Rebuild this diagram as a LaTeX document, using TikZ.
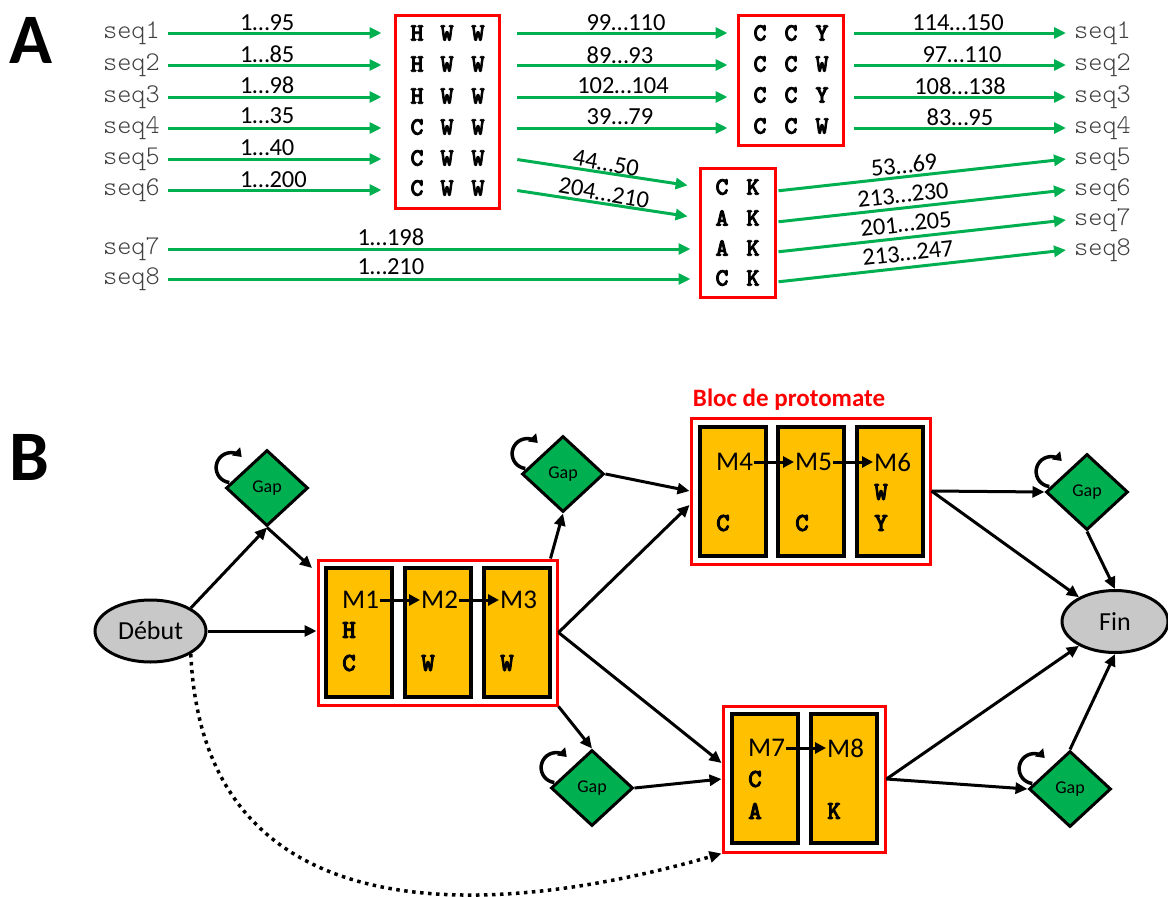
\documentclass[tikz,border=0pt]{standalone}
\usepackage{fontspec}
\setmainfont{Carlito}
\newfontfamily\monof{lmmonolt10-regular.otf}
\newfontfamily\monobf[FakeBold=3]{lmmonolt10-bold.otf}
\usetikzlibrary{arrows.meta,shapes.geometric,calc}
\definecolor{agreen}{HTML}{00B050}
\definecolor{modorange}{HTML}{FFC000}
\definecolor{ellgray}{HTML}{C8C8C8}
\definecolor{seqgray}{HTML}{404040}
\begin{document}
\begin{tikzpicture}[x=1pt,y=1pt,
  bigl/.style={font=\bfseries\fontsize{71}{71}\selectfont, inner sep=0pt},
  seqlab/.style={font=\monof\fontsize{27}{27}\selectfont, text=seqgray, inner xsep=8pt, inner ysep=0pt},
  rng/.style={font=\fontsize{24.5}{24.5}\selectfont, inner sep=0pt},
  aa/.style={font=\monobf\fontsize{25}{25}\selectfont, inner sep=0pt},
  garrow/.style={draw=agreen, line width=3pt, -{Triangle[length=12pt,width=11pt]}},
  redbox/.style={draw=red, line width=3pt, inner sep=0pt},
  ell/.style={ellipse, draw=black, line width=3pt, fill=ellgray, inner sep=0pt, font=\fontsize{26}{26}\selectfont},
  gapd/.style={diamond, draw=black, line width=3pt, fill=agreen, inner sep=0pt, minimum width=82pt, minimum height=76pt, font=\fontsize{18}{18}\selectfont},
  modbox/.style={draw=black, line width=4pt, fill=modorange, inner sep=0pt, minimum width=66pt, minimum height=129pt},
  mt/.style={anchor=west, inner sep=1pt, font=\fontsize{27}{27}\selectfont},
  ml/.style={anchor=west, inner sep=1pt, font=\monobf\fontsize{26}{26}\selectfont},
  barrow/.style={draw=black, line width=3pt, -{Triangle[length=12pt,width=11pt]}},
  iarrow/.style={draw=black, line width=3pt, -{Triangle[length=11pt,width=11pt]}},
  loopst/.style={draw=black, line width=3.5pt, -{Triangle[length=8pt,width=11pt]}},
  dotarrow/.style={draw=black, line width=3.5pt, dash pattern=on 3.5pt off 4.5pt, -{Triangle[length=12pt,width=11pt]}}
]
\useasboundingbox (0,0) rectangle (1168,-897);

%%%%%%%%%%%%%%%% PART A
\node[bigl] (labA) at (31,-40) {A};

\foreach \i/\y in {1/33,2/65,3/97,4/128,5/159,6/190,7/249,8/279}
  \node[seqlab, anchor=east] (l\i) at (168,-\y) {seq\i};
\foreach \i/\y in {1/33,2/65,3/97,4/128,5/159,6/190,7/220,8/250}
  \node[seqlab, anchor=west] (r\i) at (1066,-\y) {seq\i};

\node[redbox, minimum width=104pt, minimum height=193pt] (box1) at (447,-111.5) {};
\node[redbox, minimum width=105pt, minimum height=130pt] (box2) at (790.5,-80) {};
\node[redbox, minimum width=75pt, minimum height=129pt] (box3) at (737.5,-232.5) {};

\foreach \r/\y/\a in {1/33/H,2/64/H,3/96/H,4/127/C,5/158/C,6/188/C}{
  \node[aa] (p\r a) at (417,-\y) {\a};
  \node[aa] (p\r b) at (447,-\y) {W};
  \node[aa] (p\r c) at (478,-\y) {W};
}
\foreach \r/\y/\a in {1/33/Y,2/64/W,3/95/Y,4/126/W}{
  \node[aa] (s\r a) at (760,-\y) {C};
  \node[aa] (s\r b) at (791,-\y) {C};
  \node[aa] (s\r c) at (822,-\y) {\a};
}
\foreach \r/\y/\a in {1/187/C,2/218/A,3/248/A,4/278/C}{
  \node[aa] (q\r a) at (722,-\y) {\a};
  \node[aa] (q\r b) at (753,-\y) {K};
}

% arrows into box1
\foreach \i in {1,...,6}
  \draw[garrow, shorten >=12pt] (l\i.east) -- (box1.west |- l\i.east);
% box1 -> box2
\foreach \i in {1,...,4}
  \draw[garrow, shorten <=16pt, shorten >=9pt] (box1.east |- l\i.east) -- (box2.west |- l\i.east);
% box2 -> right seqs
\foreach \i in {1,...,4}
  \draw[garrow, shorten <=9pt] (box2.east |- r\i.west) -- (r\i.west);
% box1 -> box3
\draw[garrow, shorten <=17pt, shorten >=11pt] ($(box1.east |- l5.east)+(0,2)$) -- (box3.west |- q1a);
\draw[garrow, shorten <=17pt, shorten >=11pt] ($(box1.east |- l6.east)+(0,2)$) -- (box3.west |- q2a);
% seq7, seq8 -> box3
\draw[garrow, shorten >=8pt] (l7.east) -- (box3.west |- l7.east);
\draw[garrow, shorten >=8pt] (l8.east) -- (box3.west |- l8.east);
% box3 -> right seqs
\draw[garrow, shorten <=2pt] ($(box3.east |- q1a)+(0,-4)$) -- (r5.west);
\draw[garrow, shorten <=2pt] ($(box3.east |- q2a)+(0,-4)$) -- (r6.west);
\draw[garrow, shorten <=2pt] ($(box3.east |- q3a)+(0,-4)$) -- (r7.west);
\draw[garrow, shorten <=2pt] ($(box3.east |- q4a)+(0,-4)$) -- (r8.west);

% range labels
\node[rng, anchor=west] (n1) at (240,-22.5) {1…95};
\node[rng, anchor=west] (n2) at (240,-54.5) {1…85};
\node[rng, anchor=west] (n3) at (240,-85) {1…98};
\node[rng, anchor=west] (n4) at (240,-116) {1…35};
\node[rng, anchor=west] (n5) at (240,-148) {1…40};
\node[rng, anchor=west] (n6) at (240,-179.5) {1…200};
\node[rng] (n7) at (391,-237) {1…198};
\node[rng] (n8) at (391,-267) {1…210};
\node[rng] (m1l) at (626,-23) {99…110};
\node[rng] (m2l) at (620,-55) {89…93};
\node[rng] (m3l) at (623,-86) {102…104};
\node[rng] (m4l) at (620,-117) {39…79};
\node[rng, rotate=-10] (m5l) at (606,-163) {44…50};
\node[rng, rotate=-10] (m6l) at (604,-193) {204…210};
\node[rng] (o1l) at (958,-23) {114…150};
\node[rng] (o2l) at (962,-55) {97…110};
\node[rng] (o3l) at (960,-86) {108…138};
\node[rng] (o4l) at (960,-117) {83…95};
\node[rng, rotate=6.4] (o5l) at (904,-165) {53…69};
\node[rng, rotate=6.4] (o6l) at (903,-195) {213…230};
\node[rng, rotate=6.4] (o7l) at (906,-224) {201…205};
\node[rng, rotate=6.4] (o8l) at (908,-253) {213…247};

%%%%%%%%%%%%%%%% PART B
\node[bigl] (labB) at (29,-457) {B};

\node[ell, minimum width=111pt, minimum height=62pt] (deb) at (150.5,-631) {Début};
\node[ell, minimum width=106pt, minimum height=62pt] (fin) at (1115,-621.5) {Fin};

\node[gapd] (g1) at (267,-488) {Gap};
\node[gapd] (g2) at (563,-474) {Gap};
\node[gapd] (g3) at (592,-788) {Gap};
\node[gapd] (g4) at (1087,-492) {Gap};
\node[gapd] (g5) at (1070,-789) {Gap};

\foreach \g in {g1,g2,g3,g4,g5}
  \draw[loopst] ([shift={(-37.7,5.5)}]\g.center) arc[start angle=263, end angle=45, radius=15pt];

% red protomate blocks
\node[redbox, minimum width=239pt, minimum height=145pt] (b1) at (437.5,-632.5) {};
\node[redbox, minimum width=239pt, minimum height=146pt] (b2) at (810.5,-491) {};
\node[redbox, minimum width=162pt, minimum height=146pt] (b3) at (804,-779) {};
\node[font=\bfseries\fontsize{25}{25}\selectfont, text=red, inner sep=0pt] (bloc) at (789,-400) {Bloc de protomate};

% modules
\node[modbox] (mod1) at (358.5,-632) {};
\node[modbox] (mod2) at (437.5,-632) {};
\node[modbox] (mod3) at (516.5,-632) {};
\node[modbox] (mod4) at (732.5,-491) {};
\node[modbox] (mod5) at (811,-491) {};
\node[modbox] (mod6) at (890,-491) {};
\node[modbox] (mod7) at (765,-778) {};
\node[modbox] (mod8) at (843.5,-778) {};

\node[mt] (t1) at (341,-600) {M1};
\node[ml] (t1h) at (341,-630) {H};
\node[ml] (t1c) at (341,-663) {C};
\node[mt] (t2) at (420,-600) {M2};
\node[ml] (t2w) at (420,-663) {W};
\node[mt] (t3) at (499,-600) {M3};
\node[ml] (t3w) at (499,-663) {W};
\node[mt] (t4) at (715,-462) {M4};
\node[ml] (t4c) at (715,-523) {C};
\node[mt] (t5) at (794,-462) {M5};
\node[ml] (t5c) at (794,-523) {C};
\node[mt] (t6) at (873,-462) {M6};
\node[ml] (t6w) at (873,-492) {W};
\node[ml] (t6y) at (873,-523) {Y};
\node[mt] (t7) at (747,-748) {M7};
\node[ml] (t7c) at (747,-779) {C};
\node[ml] (t7a) at (747,-811) {A};
\node[mt] (t8) at (826,-748) {M8};
\node[ml] (t8k) at (826,-811) {K};

\draw[iarrow] (t1.east) -- (t2.west);
\draw[iarrow] (t2.east) -- (t3.west);
\draw[iarrow] (t4.east) -- (t5.west);
\draw[iarrow] (t5.east) -- (t6.west);
\draw[iarrow] (t7.east) -- (t8.west);

% connectors
\draw[barrow] (deb.north east) -- (g1.south);
\draw[barrow] (g1.south) -- ($(b1.north west)+(-4.5,-9.5)$);
\draw[barrow] (deb.east) -- (b1.west |- deb.east);
\draw[dotarrow] (deb.south east) .. controls (205,-970) and (560,-900) .. (b3.south west);
\draw[barrow] ($(b1.north east)+(-8,0)$) -- (g2.south);
\draw[barrow] (g2.east) -- (b2.west);
\draw[barrow] (b1.east) -- ($(b2.west)+(0,-14)$);
\draw[barrow] (b1.east) -- ($(b3.west)+(0,16)$);
\draw[barrow] (b1.south east) -- (g3.north);
\draw[barrow] (g3.east) -- (b3.west);
\draw[barrow] (b2.east) -- (g4.west);
\draw[barrow] (b2.east) -- (fin.146);
\draw[barrow] (g4.south) -- (fin.north);
\draw[barrow] (b3.east) -- (fin.214);
\draw[barrow] (b3.east) -- (g5.west);
\draw[barrow] (g5.north) -- (fin.south);
\end{tikzpicture}
\end{document}
